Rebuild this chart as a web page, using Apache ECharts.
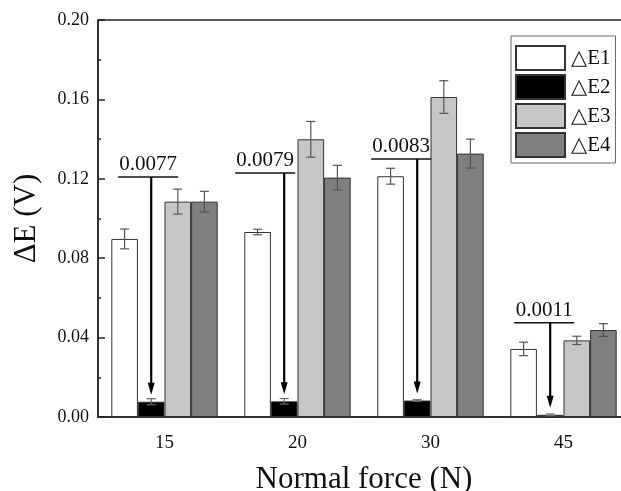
<!DOCTYPE html>
<html>
<head>
<meta charset="utf-8">
<script src="https://cdn.jsdelivr.net/npm/echarts@6/dist/echarts.min.js"></script>
<style>
html, body { margin: 0; padding: 0; background: #fff; }
#chart { width: 621px; height: 491px; }
</style>
</head>
<body>
<div id="chart"></div>
<script>
// forces on the x axis
var forces = ['15', '20', '30', '45'];
var seriesNames = ['△E1', '△E2', '△E3', '△E4'];

// mean values (V)
var dE1 = [0.0897, 0.0932, 0.1213, 0.0343];
var dE2 = [0.0077, 0.0079, 0.0083, 0.0011];
var dE3 = [0.1085, 0.1399, 0.1612, 0.0386];
var dE4 = [0.1085, 0.1206, 0.1327, 0.0438];

// error bar half-lengths
var err1 = [0.0050, 0.0014, 0.0040, 0.0034];
var err2 = [0.0015, 0.0014, 0.0004, 0.0004];
var err3 = [0.0063, 0.0090, 0.0082, 0.0021];
var err4 = [0.0052, 0.0062, 0.0073, 0.0032];

// annotation for the small △E2 bars
var noteText = ['0.0077', '0.0079', '0.0083', '0.0011'];
var noteLevel = [0.1209, 0.1229, 0.1300, 0.0475];

var yTicks = [0, 0.04, 0.08, 0.12, 0.16, 0.20];

// layout tweaks for the note labels (px, relative to arrow)
var noteShift = [-3, -19, -16, -6];

var means = [dE1, dE2, dE3, dE4];
var errs = [err1, err2, err3, err4];
var colors = ['#ffffff', '#000000', '#c6c6c6', '#7f7f7f'];
var serif = '"Liberation Serif", "DejaVu Serif", serif';

var errData = [];
for (var s = 0; s < 4; s++) {
    for (var c = 0; c < forces.length; c++) {
        errData.push([c, s, means[s][c], errs[s][c]]);
    }
}
var noteData = [];
for (var k = 0; k < forces.length; k++) {
    noteData.push([k, dE2[k], noteLevel[k]]);
}

var chart = echarts.init(document.getElementById('chart'));

var barSeries = seriesNames.map(function (name, i) {
    return {
        name: name,
        type: 'bar',
        data: means[i],
        barGap: '0%',
        barCategoryGap: '20%',
        itemStyle: { color: colors[i], borderColor: '#333', borderWidth: 1 },
        emphasis: { disabled: true },
        z: 2
    };
});

var option = {
    animation: false,
    backgroundColor: '#fff',
    grid: {
        left: 98, top: 20, right: -9, bottom: 74,
        show: true, borderColor: '#222', borderWidth: 1.5,
        outerBoundsMode: 'none'
    },
    legend: {
        orient: 'vertical',
        left: 511, top: 36,
        data: seriesNames,
        icon: 'rect',
        itemWidth: 49, itemHeight: 24, itemGap: 3,
        padding: [9, 5, 5, 4],
        borderColor: '#666', borderWidth: 1,
        textStyle: { fontFamily: serif, fontSize: 21, color: '#111', padding: [0, 0, 0, 1] }
    },
    xAxis: {
        type: 'category',
        data: forces,
        name: 'Normal force (N)',
        nameLocation: 'middle',
        nameGap: 47,
        nameTextStyle: { fontFamily: serif, fontSize: 31, color: '#111' },
        axisLine: { lineStyle: { color: '#222', width: 1.5 } },
        axisTick: { inside: true, length: 4, lineStyle: { color: '#222', width: 1.5 } },
        axisLabel: { fontFamily: serif, fontSize: 19, color: '#111', margin: 17 }
    },
    yAxis: {
        type: 'value',
        min: 0, max: 0.2, interval: 0.04,
        name: 'ΔE (V)',
        nameLocation: 'middle',
        nameGap: 56,
        nameTextStyle: { fontFamily: serif, fontSize: 31, color: '#111' },
        axisLine: { show: true, lineStyle: { color: '#222', width: 1.5 } },
        axisTick: { show: true, inside: true, length: 7, lineStyle: { color: '#222', width: 1.5 } },
        minorTick: { show: true, splitNumber: 2, length: 3, lineStyle: { color: '#222', width: 1.5 } },
        splitLine: { show: false },
        axisLabel: {
            fontFamily: serif, fontSize: 18, color: '#111', margin: 9,
            formatter: function (v) { return v.toFixed(2); }
        }
    },
    series: barSeries.concat([
        {
            type: 'custom',
            name: 'errors',
            data: errData,
            encode: { x: 0, y: 2 },
            z: 3,
            silent: true,
            renderItem: function (params, api) {
                var cat = api.value(0), s = api.value(1), v = api.value(2), e = api.value(3);
                var bw = api.size([1, 0])[0];
                var x = api.coord([cat, 0])[0] + (-0.3 + 0.2 * s) * bw;
                var yTop = api.coord([cat, v + e])[1];
                var yBot = api.coord([cat, v - e])[1];
                var cap = 4.5;
                var st = { stroke: s === 1 ? '#666' : '#555', lineWidth: 1.2 };
                return {
                    type: 'group',
                    children: [
                        { type: 'line', shape: { x1: x, y1: yTop, x2: x, y2: yBot }, style: st },
                        { type: 'line', shape: { x1: x - cap, y1: yTop, x2: x + cap, y2: yTop }, style: st },
                        { type: 'line', shape: { x1: x - cap, y1: yBot, x2: x + cap, y2: yBot }, style: st }
                    ]
                };
            }
        },
        {
            type: 'custom',
            name: 'notes',
            data: noteData,
            encode: { x: 0, y: 2 },
            z: 4,
            silent: true,
            renderItem: function (params, api) {
                var cat = api.value(0), v = api.value(1), lvl = api.value(2);
                var i = params.dataIndex;
                var bw = api.size([1, 0])[0];
                var x = api.coord([cat, 0])[0] - 0.1 * bw;
                var yLine = api.coord([cat, lvl])[1];
                var yTip = api.coord([cat, v])[1] - 7;
                var head = 12;
                var tx = x + noteShift[i];
                var halfW = 30;
                return {
                    type: 'group',
                    children: [
                        { type: 'line', shape: { x1: tx - halfW, y1: yLine, x2: tx + halfW, y2: yLine },
                          style: { stroke: '#111', lineWidth: 1.5 } },
                        { type: 'text', x: tx, y: yLine - 2,
                          style: { text: noteText[i], fontFamily: serif, fontSize: 21, fill: '#111',
                                   align: 'center', verticalAlign: 'bottom' } },
                        { type: 'line', shape: { x1: x, y1: yLine, x2: x, y2: yTip - head + 2 },
                          style: { stroke: '#000', lineWidth: 2.2 } },
                        { type: 'polygon', shape: { points: [[x - 3.5, yTip - head], [x + 3.5, yTip - head], [x, yTip]] },
                          style: { fill: '#000' } }
                    ]
                };
            }
        }
    ])
};
chart.setOption(option);
</script>
</body>
</html>
